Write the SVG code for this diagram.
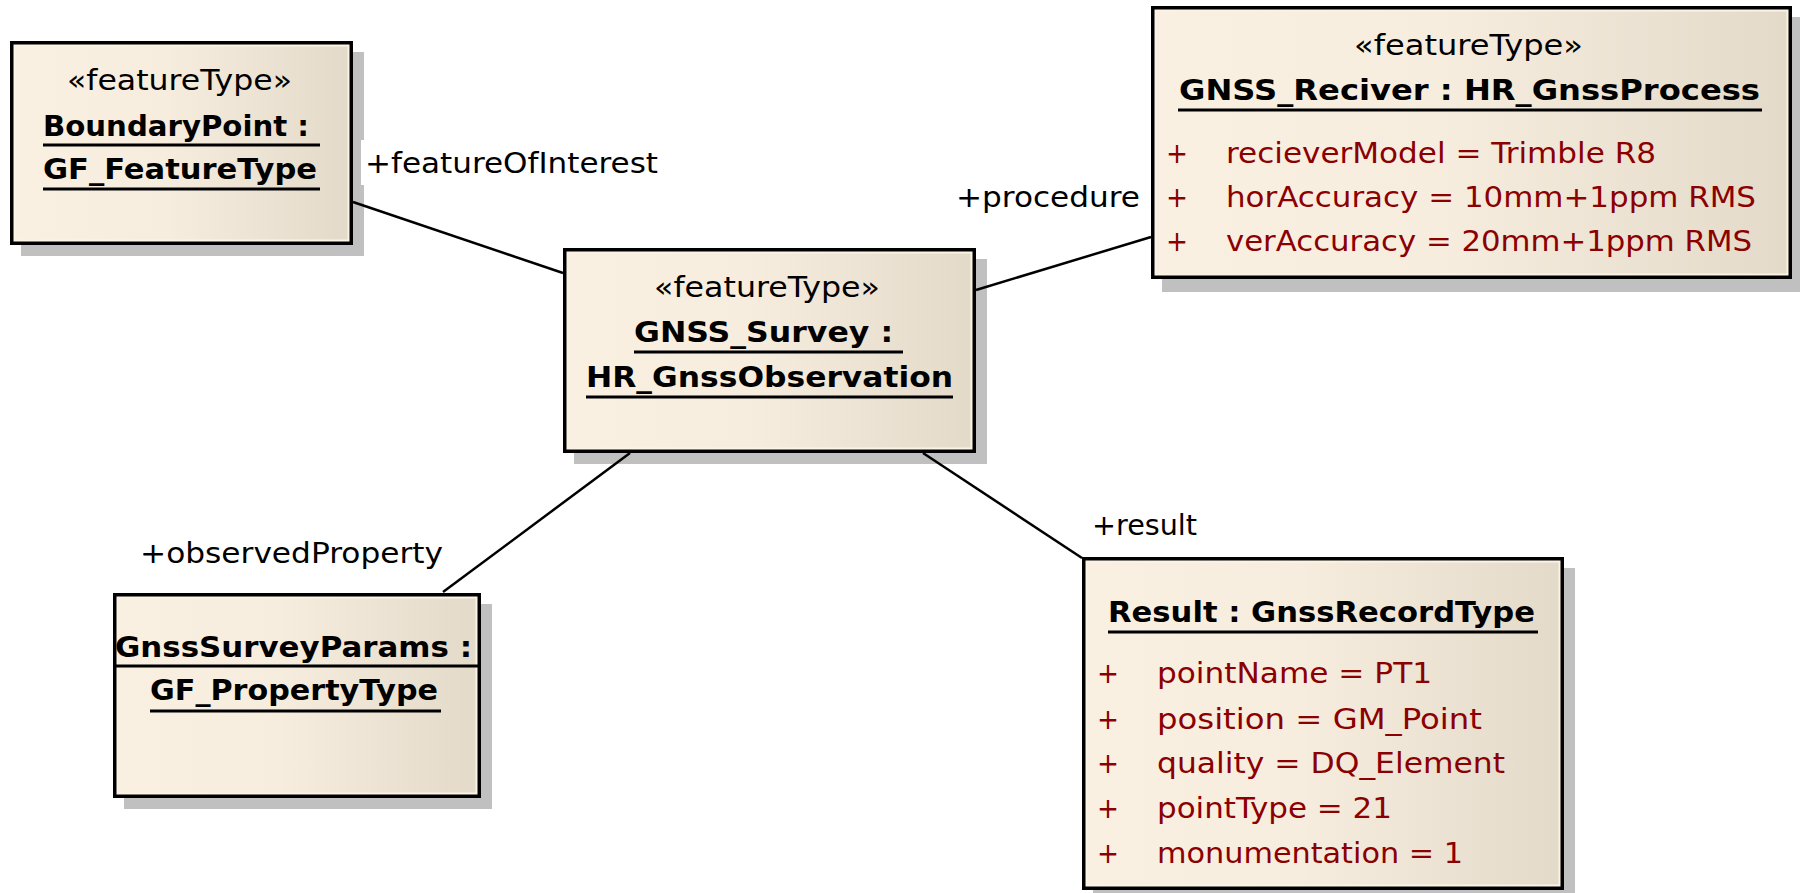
<svg xmlns="http://www.w3.org/2000/svg" width="1800" height="893" viewBox="0 0 1800 893">
  <defs>
    <linearGradient id="boxFill" x1="0" y1="0" x2="1" y2="0">
      <stop offset="0" stop-color="#FAF0E2"/>
      <stop offset="0.45" stop-color="#F7EDDE"/>
      <stop offset="1" stop-color="#E3DACA"/>
    </linearGradient>
  </defs>
  <style>
    .shadow { fill: #C0C0C0; }
    .frame { fill: #FBF3E6; stroke: #000; stroke-width: 3.5; }
    .body { fill: url(#boxFill); }
    .t { font-family: "DejaVu Sans", "Liberation Sans", sans-serif; font-size: 29px; fill: #000; }
    .b { font-weight: bold; }
    .attr { fill: #8B0000; }
    .ul { stroke: #000; stroke-width: 3; }
    .edge { stroke: #000; stroke-width: 2.5; fill: none; }
  </style>

  <rect width="1800" height="893" fill="#FFFFFF"/>

  <!-- BoundaryPoint : GF_FeatureType -->
  <g id="boundaryPoint">
    <rect class="shadow" x="21" y="52" width="343" height="204"/>
    <rect class="frame" x="11.75" y="42.75" width="339.5" height="200.5"/>
    <rect class="body" x="15.5" y="46.5" width="332" height="193"/>
    <text class="t" x="67" y="90" textLength="225" lengthAdjust="spacingAndGlyphs">«featureType»</text>
    <text class="t b" x="43" y="136" textLength="266" lengthAdjust="spacingAndGlyphs">BoundaryPoint :</text>
    <line class="ul" x1="43" y1="145" x2="320" y2="145"/>
    <text class="t b" x="43" y="179" textLength="274" lengthAdjust="spacingAndGlyphs">GF_FeatureType</text>
    <line class="ul" x1="43" y1="189" x2="320" y2="189"/>
  </g>

  <!-- GNSS_Survey : HR_GnssObservation -->
  <g id="gnssSurvey">
    <rect class="shadow" x="574" y="259" width="413" height="205"/>
    <rect class="frame" x="564.75" y="249.75" width="409.5" height="201.5"/>
    <rect class="body" x="568.5" y="253.5" width="402" height="194"/>
    <text class="t" x="654" y="297" textLength="226" lengthAdjust="spacingAndGlyphs">«featureType»</text>
    <text class="t b" x="634" y="342" textLength="259" lengthAdjust="spacingAndGlyphs">GNSS_Survey :</text>
    <line class="ul" x1="634" y1="352" x2="903" y2="352"/>
    <text class="t b" x="586" y="387" textLength="367" lengthAdjust="spacingAndGlyphs">HR_GnssObservation</text>
    <line class="ul" x1="586" y1="397" x2="953" y2="397"/>
  </g>

  <!-- GNSS_Reciver : HR_GnssProcess -->
  <g id="gnssReciver">
    <rect class="shadow" x="1162" y="17" width="641" height="275"/>
    <rect class="frame" x="1152.75" y="7.75" width="637.5" height="269.5"/>
    <rect class="body" x="1156.5" y="11.5" width="630" height="262"/>
    <text class="t" x="1354" y="55" textLength="229" lengthAdjust="spacingAndGlyphs">«featureType»</text>
    <text class="t b" x="1179" y="100" textLength="581" lengthAdjust="spacingAndGlyphs">GNSS_Reciver : HR_GnssProcess</text>
    <line class="ul" x1="1178" y1="110" x2="1762" y2="110"/>
    <text class="t attr" x="1166" y="163" textLength="22" lengthAdjust="spacingAndGlyphs">+</text>
    <text class="t attr" x="1226" y="163" textLength="430" lengthAdjust="spacingAndGlyphs">recieverModel = Trimble R8</text>
    <text class="t attr" x="1166" y="207" textLength="22" lengthAdjust="spacingAndGlyphs">+</text>
    <text class="t attr" x="1226" y="207" textLength="530" lengthAdjust="spacingAndGlyphs">horAccuracy = 10mm+1ppm RMS</text>
    <text class="t attr" x="1166" y="251" textLength="22" lengthAdjust="spacingAndGlyphs">+</text>
    <text class="t attr" x="1226" y="251" textLength="526" lengthAdjust="spacingAndGlyphs">verAccuracy = 20mm+1ppm RMS</text>
  </g>

  <!-- GnssSurveyParams : GF_PropertyType -->
  <g id="gnssSurveyParams">
    <rect class="shadow" x="124" y="604" width="368" height="205"/>
    <rect class="frame" x="114.75" y="594.75" width="364.5" height="201.5"/>
    <rect class="body" x="118.5" y="598.5" width="357" height="194"/>
    <text class="t b" x="115" y="657" textLength="357" lengthAdjust="spacingAndGlyphs">GnssSurveyParams :</text>
    <line class="ul" x1="113" y1="666" x2="481" y2="666"/>
    <text class="t b" x="150" y="700" textLength="288" lengthAdjust="spacingAndGlyphs">GF_PropertyType</text>
    <line class="ul" x1="150" y1="711" x2="441" y2="711"/>
  </g>

  <!-- Result : GnssRecordType -->
  <g id="result">
    <rect class="shadow" x="1093" y="568" width="482" height="333"/>
    <rect class="frame" x="1083.75" y="558.75" width="478.5" height="329.5"/>
    <rect class="body" x="1087.5" y="562.5" width="471" height="322"/>
    <text class="t b" x="1108" y="622" textLength="427" lengthAdjust="spacingAndGlyphs">Result : GnssRecordType</text>
    <line class="ul" x1="1108" y1="632" x2="1538" y2="632"/>
    <text class="t attr" x="1097" y="683" textLength="22" lengthAdjust="spacingAndGlyphs">+</text>
    <text class="t attr" x="1157" y="683" textLength="275" lengthAdjust="spacingAndGlyphs">pointName = PT1</text>
    <text class="t attr" x="1097" y="729" textLength="22" lengthAdjust="spacingAndGlyphs">+</text>
    <text class="t attr" x="1157" y="729" textLength="325" lengthAdjust="spacingAndGlyphs">position = GM_Point</text>
    <text class="t attr" x="1097" y="773" textLength="22" lengthAdjust="spacingAndGlyphs">+</text>
    <text class="t attr" x="1157" y="773" textLength="348" lengthAdjust="spacingAndGlyphs">quality = DQ_Element</text>
    <text class="t attr" x="1097" y="818" textLength="22" lengthAdjust="spacingAndGlyphs">+</text>
    <text class="t attr" x="1157" y="818" textLength="235" lengthAdjust="spacingAndGlyphs">pointType = 21</text>
    <text class="t attr" x="1097" y="863" textLength="22" lengthAdjust="spacingAndGlyphs">+</text>
    <text class="t attr" x="1157" y="863" textLength="306" lengthAdjust="spacingAndGlyphs">monumentation = 1</text>
  </g>

  <!-- associations with their role names -->
  <g id="connectors">
    <line class="edge" x1="353" y1="202" x2="563" y2="273"/>
    <line class="edge" x1="976" y1="290" x2="1151" y2="237"/>
    <line class="edge" x1="443" y1="592" x2="630" y2="453"/>
    <line class="edge" x1="923" y1="453" x2="1082" y2="558"/>

    <rect x="361" y="140" width="300" height="45" fill="#FFFFFF"/>
    <text class="t" x="365" y="173" textLength="293" lengthAdjust="spacingAndGlyphs">+featureOfInterest</text>
    <text class="t" x="956" y="207" textLength="184" lengthAdjust="spacingAndGlyphs">+procedure</text>
    <text class="t" x="140" y="563" textLength="303" lengthAdjust="spacingAndGlyphs">+observedProperty</text>
    <text class="t" x="1092" y="535" textLength="105" lengthAdjust="spacingAndGlyphs">+result</text>
  </g>
</svg>
